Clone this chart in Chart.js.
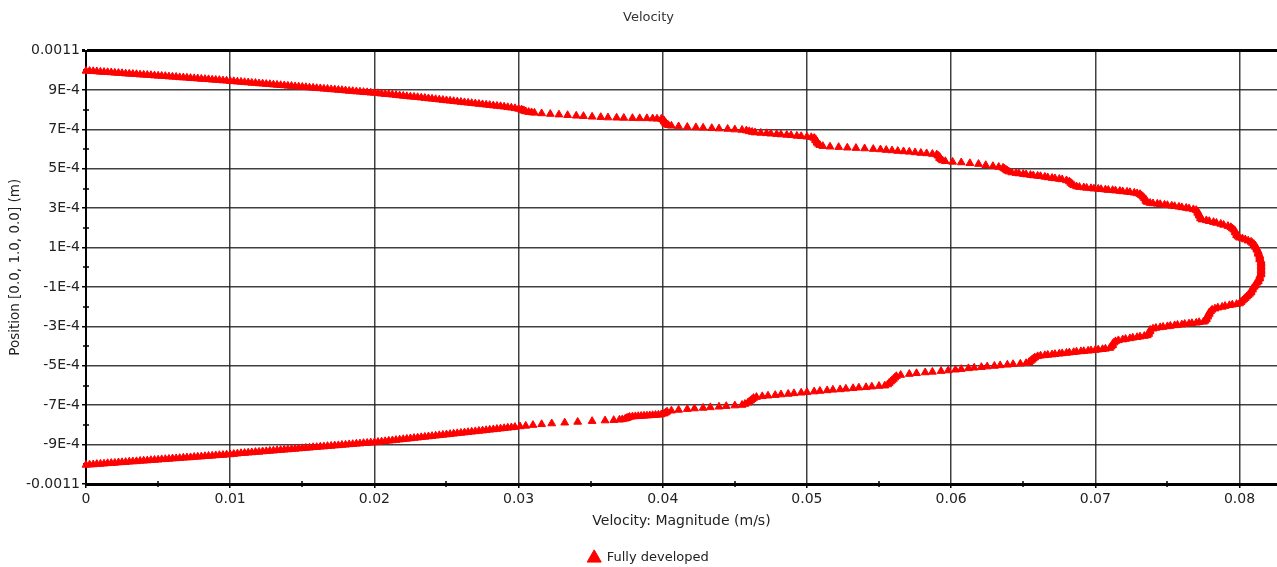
<!DOCTYPE html>
<html>
<head>
<meta charset="utf-8">
<title>Velocity</title>
<script src="https://cdn.jsdelivr.net/npm/chart.js@4/dist/chart.umd.min.js"></script>
<style>
  html, body { margin: 0; padding: 0; background: #fff; overflow: hidden; }
  #wrap { position: relative; width: 1277px; height: 567px; }
</style>
</head>
<body>
<div id="wrap"><canvas id="velocity-chart"></canvas></div>
<script>
// upper half of the channel, wall -> centre (velocity in m/s, position in mm)
const upperVelocity = [
    0.00000, 0.00025, 0.00050, 0.00075, 0.00100, 0.00125, 0.00150, 0.00175, 0.00200, 0.00225,
    0.00250, 0.00275, 0.00300, 0.00325, 0.00350, 0.00375, 0.00400, 0.00425, 0.00450, 0.00475,
    0.00500, 0.00525, 0.00550, 0.00575, 0.00600, 0.00625, 0.00650, 0.00675, 0.00700, 0.00725,
    0.00750, 0.00775, 0.00800, 0.00825, 0.00850, 0.00875, 0.00900, 0.00925, 0.00950, 0.00975,
    0.01000, 0.01025, 0.01050, 0.01075, 0.01100, 0.01125, 0.01150, 0.01175, 0.01200, 0.01225,
    0.01250, 0.01275, 0.01300, 0.01325, 0.01350, 0.01375, 0.01400, 0.01425, 0.01450, 0.01475,
    0.01500, 0.01525, 0.01550, 0.01575, 0.01600, 0.01625, 0.01650, 0.01675, 0.01700, 0.01725,
    0.01750, 0.01775, 0.01800, 0.01825, 0.01850, 0.01875, 0.01900, 0.01925, 0.01950, 0.01975,
    0.02000, 0.02025, 0.02050, 0.02075, 0.02100, 0.02125, 0.02150, 0.02175, 0.02200, 0.02225,
    0.02250, 0.02275, 0.02300, 0.02325, 0.02350, 0.02375, 0.02400, 0.02425, 0.02450, 0.02475,
    0.02500, 0.02525, 0.02550, 0.02575, 0.02600, 0.02625, 0.02650, 0.02675, 0.02700, 0.02725,
    0.02750, 0.02775, 0.02800, 0.02825, 0.02850, 0.02875, 0.02900, 0.02925, 0.02950, 0.02975,
    0.0300, 0.0302, 0.0303, 0.0304, 0.0305, 0.0307, 0.0309, 0.0311, 0.0316, 0.0322,
    0.0328, 0.0334, 0.0340, 0.0345, 0.0351, 0.0357, 0.0362, 0.0368, 0.0373, 0.0379,
    0.0384, 0.0389, 0.0393, 0.0396, 0.0399, 0.0400, 0.0401, 0.0401, 0.0402, 0.0402,
    0.0403, 0.0404, 0.0406, 0.0411, 0.0417, 0.0423, 0.0428, 0.0434, 0.0439, 0.0445,
    0.0450, 0.0455, 0.0458, 0.0460, 0.0462, 0.0464, 0.0468, 0.0472, 0.0475, 0.0479,
    0.0482, 0.0486, 0.0489, 0.0493, 0.0496, 0.0500, 0.0503, 0.0505, 0.0506, 0.0506,
    0.0507, 0.0507, 0.0508, 0.0509, 0.0511, 0.0516, 0.0522, 0.0528, 0.0534, 0.0540,
    0.0546, 0.0551, 0.0555, 0.0559, 0.0563, 0.0567, 0.0571, 0.0575, 0.0579, 0.0583,
    0.0587, 0.0590, 0.0591, 0.0592, 0.0592, 0.0593, 0.0594, 0.0596, 0.0601, 0.0607,
    0.0613, 0.0619, 0.0624, 0.0629, 0.0633, 0.0636, 0.0637, 0.0638, 0.0639, 0.0640,
    0.0642, 0.0645, 0.0647, 0.0650, 0.0652, 0.0655, 0.0657, 0.0660, 0.0662, 0.0665,
    0.0667, 0.0670, 0.0672, 0.0675, 0.0677, 0.0680, 0.0682, 0.0683, 0.0684, 0.0685,
    0.0687, 0.0689, 0.0692, 0.0694, 0.0697, 0.0699, 0.0702, 0.0704, 0.0707, 0.0709,
    0.0712, 0.0714, 0.0717, 0.0719, 0.0722, 0.0724, 0.0727, 0.0729, 0.0731, 0.0732,
    0.0733, 0.0734, 0.0735, 0.0735, 0.0736, 0.0738, 0.0740, 0.0743, 0.0745, 0.0748,
    0.0750, 0.0753, 0.0755, 0.0758, 0.0760, 0.0763, 0.0765, 0.0768, 0.0770, 0.0771,
    0.0771, 0.0772, 0.0772, 0.0773, 0.0773, 0.0774, 0.0777, 0.0779, 0.0782, 0.0784,
    0.0787, 0.0789, 0.0792, 0.0794, 0.0795, 0.0796, 0.0797, 0.0797, 0.0798, 0.0798,
    0.0799, 0.0800, 0.0802, 0.0804, 0.0806, 0.0808, 0.0809, 0.0810, 0.0811, 0.0811,
    0.0812, 0.0812, 0.0813, 0.0813, 0.0813, 0.0814, 0.0814, 0.0814, 0.0814, 0.0815,
    0.0815, 0.0815, 0.0815, 0.0815
];
const upperPositionMm = [
    0.997, 0.996, 0.995, 0.994, 0.992, 0.991, 0.990, 0.989, 0.987, 0.986,
    0.985, 0.983, 0.982, 0.981, 0.980, 0.978, 0.977, 0.976, 0.975, 0.973,
    0.972, 0.971, 0.970, 0.968, 0.967, 0.966, 0.964, 0.963, 0.962, 0.960,
    0.959, 0.958, 0.956, 0.955, 0.954, 0.952, 0.951, 0.950, 0.948, 0.947,
    0.945, 0.944, 0.942, 0.941, 0.939, 0.938, 0.936, 0.935, 0.933, 0.932,
    0.930, 0.929, 0.927, 0.926, 0.924, 0.923, 0.921, 0.920, 0.918, 0.917,
    0.915, 0.914, 0.912, 0.911, 0.909, 0.908, 0.906, 0.905, 0.903, 0.902,
    0.900, 0.899, 0.897, 0.895, 0.894, 0.892, 0.891, 0.889, 0.888, 0.886,
    0.885, 0.883, 0.881, 0.879, 0.878, 0.876, 0.874, 0.872, 0.870, 0.868,
    0.866, 0.865, 0.863, 0.861, 0.859, 0.857, 0.855, 0.853, 0.851, 0.849,
    0.847, 0.845, 0.843, 0.841, 0.839, 0.837, 0.835, 0.833, 0.831, 0.829,
    0.827, 0.825, 0.823, 0.821, 0.819, 0.817, 0.815, 0.812, 0.810, 0.807,
    0.804, 0.800, 0.797, 0.794, 0.791, 0.788, 0.786, 0.784, 0.781, 0.778,
    0.775, 0.772, 0.769, 0.767, 0.764, 0.762, 0.760, 0.759, 0.758, 0.757,
    0.756, 0.756, 0.755, 0.754, 0.753, 0.749, 0.744, 0.739, 0.734, 0.729,
    0.725, 0.721, 0.718, 0.715, 0.712, 0.710, 0.708, 0.706, 0.704, 0.702,
    0.699, 0.697, 0.694, 0.690, 0.687, 0.684, 0.682, 0.680, 0.678, 0.676,
    0.674, 0.672, 0.670, 0.667, 0.665, 0.663, 0.660, 0.656, 0.650, 0.644,
    0.638, 0.632, 0.626, 0.620, 0.615, 0.612, 0.610, 0.607, 0.605, 0.603,
    0.600, 0.598, 0.595, 0.593, 0.590, 0.588, 0.586, 0.583, 0.580, 0.578,
    0.575, 0.572, 0.566, 0.560, 0.554, 0.548, 0.542, 0.538, 0.535, 0.532,
    0.528, 0.524, 0.518, 0.513, 0.509, 0.505, 0.500, 0.495, 0.490, 0.486,
    0.481, 0.478, 0.476, 0.473, 0.471, 0.468, 0.466, 0.464, 0.462, 0.459,
    0.456, 0.453, 0.451, 0.448, 0.446, 0.441, 0.435, 0.428, 0.422, 0.416,
    0.410, 0.407, 0.405, 0.403, 0.401, 0.399, 0.398, 0.396, 0.394, 0.392,
    0.391, 0.389, 0.387, 0.385, 0.383, 0.381, 0.378, 0.375, 0.371, 0.365,
    0.358, 0.351, 0.344, 0.337, 0.331, 0.326, 0.324, 0.322, 0.320, 0.317,
    0.315, 0.312, 0.310, 0.307, 0.304, 0.301, 0.298, 0.294, 0.290, 0.283,
    0.276, 0.269, 0.262, 0.255, 0.248, 0.242, 0.238, 0.234, 0.229, 0.225,
    0.220, 0.215, 0.209, 0.203, 0.197, 0.191, 0.184, 0.177, 0.170, 0.163,
    0.156, 0.150, 0.146, 0.141, 0.135, 0.129, 0.123, 0.117, 0.110, 0.103,
    0.096, 0.089, 0.082, 0.075, 0.068, 0.061, 0.054, 0.047, 0.040, 0.033,
    0.026, 0.019, 0.012, 0.005
];

// lower half, centre -> wall
const lowerVelocity = [
    0.0815, 0.0815, 0.0815, 0.0815, 0.0815, 0.0815, 0.0814, 0.0814, 0.0814, 0.0813,
    0.0813, 0.0812, 0.0811, 0.0811, 0.0810, 0.0809, 0.0809, 0.0808, 0.0808, 0.0807,
    0.0806, 0.0805, 0.0804, 0.0803, 0.0802, 0.0801, 0.0800, 0.0798, 0.0795, 0.0793,
    0.0790, 0.0788, 0.0785, 0.0783, 0.0781, 0.0780, 0.0779, 0.0779, 0.0778, 0.0778,
    0.0777, 0.0777, 0.0776, 0.0775, 0.0772, 0.0770, 0.0767, 0.0765, 0.0762, 0.0760,
    0.0757, 0.0755, 0.0752, 0.0750, 0.0747, 0.0745, 0.0742, 0.0740, 0.0738, 0.0738,
    0.0737, 0.0737, 0.0736, 0.0734, 0.0731, 0.0729, 0.0726, 0.0724, 0.0721, 0.0719,
    0.0716, 0.0714, 0.0713, 0.0712, 0.0712, 0.0711, 0.0710, 0.0707, 0.0705, 0.0702,
    0.0700, 0.0697, 0.0695, 0.0692, 0.0690, 0.0687, 0.0685, 0.0682, 0.0680, 0.0677,
    0.0675, 0.0672, 0.0670, 0.0667, 0.0665, 0.0662, 0.0660, 0.0658, 0.0657, 0.0656,
    0.0655, 0.0654, 0.0652, 0.0648, 0.0643, 0.0639, 0.0634, 0.0630, 0.0625, 0.0621,
    0.0616, 0.0612, 0.0607, 0.0603, 0.0598, 0.0593, 0.0587, 0.0582, 0.0576, 0.0571,
    0.0565, 0.0562, 0.0561, 0.0560, 0.0559, 0.0558, 0.0557, 0.0556, 0.0554, 0.0550,
    0.0545, 0.0541, 0.0536, 0.0532, 0.0527, 0.0523, 0.0518, 0.0514, 0.0509, 0.0505,
    0.0500, 0.0496, 0.0491, 0.0487, 0.0482, 0.0478, 0.0473, 0.0469, 0.0465, 0.0463,
    0.0462, 0.0461, 0.0460, 0.0459, 0.0457, 0.0455, 0.0450, 0.0444, 0.0439, 0.0433,
    0.0428, 0.0422, 0.0417, 0.0411, 0.0406, 0.0403, 0.0402, 0.0401, 0.0399, 0.0397,
    0.0395, 0.0393, 0.0391, 0.0389, 0.0387, 0.0385, 0.0383, 0.0381, 0.0379, 0.0377,
    0.0376, 0.0375, 0.0374, 0.0372, 0.0370, 0.0366, 0.0360, 0.0351, 0.0341, 0.0332,
    0.0323, 0.0316, 0.0310, 0.0305, 0.0301, 0.02975, 0.02950, 0.02925, 0.02900, 0.02875,
    0.02850, 0.02825, 0.02800, 0.02775, 0.02750, 0.02725, 0.02700, 0.02675, 0.02650, 0.02625,
    0.02600, 0.02575, 0.02550, 0.02525, 0.02500, 0.02475, 0.02450, 0.02425, 0.02400, 0.02375,
    0.02350, 0.02325, 0.02300, 0.02275, 0.02250, 0.02225, 0.02200, 0.02175, 0.02150, 0.02125,
    0.02100, 0.02075, 0.02050, 0.02025, 0.02000, 0.01975, 0.01950, 0.01925, 0.01900, 0.01875,
    0.01850, 0.01825, 0.01800, 0.01775, 0.01750, 0.01725, 0.01700, 0.01675, 0.01650, 0.01625,
    0.01600, 0.01575, 0.01550, 0.01525, 0.01500, 0.01475, 0.01450, 0.01425, 0.01400, 0.01375,
    0.01350, 0.01325, 0.01300, 0.01275, 0.01250, 0.01225, 0.01200, 0.01175, 0.01150, 0.01125,
    0.01100, 0.01075, 0.01050, 0.01025, 0.01000, 0.00975, 0.00950, 0.00925, 0.00900, 0.00875,
    0.00850, 0.00825, 0.00800, 0.00775, 0.00750, 0.00725, 0.00700, 0.00675, 0.00650, 0.00625,
    0.00600, 0.00575, 0.00550, 0.00525, 0.00500, 0.00475, 0.00450, 0.00425, 0.00400, 0.00375,
    0.00350, 0.00325, 0.00300, 0.00275, 0.00250, 0.00225, 0.00200, 0.00175, 0.00150, 0.00125,
    0.00100, 0.00075, 0.00050, 0.00025, 0.00000
];
const lowerPositionMm = [
    -0.002, -0.009, -0.016, -0.023, -0.030, -0.037, -0.044, -0.051, -0.058, -0.065,
    -0.072, -0.079, -0.086, -0.093, -0.100, -0.107, -0.114, -0.121, -0.128, -0.135,
    -0.142, -0.149, -0.156, -0.163, -0.170, -0.177, -0.184, -0.187, -0.190, -0.193,
    -0.197, -0.201, -0.205, -0.210, -0.216, -0.223, -0.230, -0.237, -0.244, -0.251,
    -0.258, -0.265, -0.272, -0.277, -0.279, -0.282, -0.284, -0.286, -0.288, -0.291,
    -0.293, -0.295, -0.298, -0.300, -0.303, -0.305, -0.308, -0.312, -0.318, -0.325,
    -0.332, -0.339, -0.346, -0.349, -0.352, -0.355, -0.358, -0.361, -0.364, -0.367,
    -0.371, -0.376, -0.382, -0.389, -0.396, -0.403, -0.410, -0.414, -0.416, -0.418,
    -0.420, -0.422, -0.424, -0.426, -0.427, -0.429, -0.431, -0.433, -0.435, -0.437,
    -0.439, -0.441, -0.443, -0.445, -0.447, -0.449, -0.452, -0.458, -0.464, -0.470,
    -0.476, -0.482, -0.487, -0.490, -0.492, -0.495, -0.498, -0.501, -0.504, -0.507,
    -0.510, -0.513, -0.517, -0.520, -0.524, -0.527, -0.531, -0.534, -0.538, -0.542,
    -0.547, -0.553, -0.560, -0.567, -0.574, -0.581, -0.588, -0.595, -0.601, -0.603,
    -0.606, -0.609, -0.611, -0.614, -0.617, -0.620, -0.622, -0.625, -0.628, -0.631,
    -0.634, -0.637, -0.640, -0.643, -0.646, -0.649, -0.652, -0.655, -0.659, -0.664,
    -0.670, -0.676, -0.682, -0.688, -0.694, -0.699, -0.702, -0.705, -0.708, -0.711,
    -0.714, -0.717, -0.720, -0.724, -0.728, -0.733, -0.738, -0.743, -0.747, -0.749,
    -0.750, -0.751, -0.752, -0.753, -0.754, -0.755, -0.756, -0.757, -0.758, -0.760,
    -0.763, -0.766, -0.769, -0.772, -0.774, -0.776, -0.778, -0.781, -0.785, -0.789,
    -0.793, -0.797, -0.801, -0.805, -0.808, -0.811, -0.813, -0.815, -0.817, -0.819,
    -0.821, -0.823, -0.825, -0.827, -0.829, -0.831, -0.833, -0.835, -0.837, -0.839,
    -0.841, -0.843, -0.845, -0.847, -0.849, -0.851, -0.853, -0.855, -0.857, -0.859,
    -0.861, -0.863, -0.865, -0.867, -0.869, -0.871, -0.873, -0.875, -0.877, -0.879,
    -0.881, -0.883, -0.885, -0.887, -0.889, -0.890, -0.892, -0.893, -0.895, -0.896,
    -0.898, -0.899, -0.901, -0.902, -0.904, -0.905, -0.907, -0.908, -0.910, -0.911,
    -0.913, -0.914, -0.916, -0.917, -0.919, -0.920, -0.922, -0.923, -0.925, -0.926,
    -0.928, -0.929, -0.931, -0.932, -0.934, -0.935, -0.937, -0.938, -0.940, -0.941,
    -0.943, -0.944, -0.946, -0.948, -0.950, -0.951, -0.953, -0.954, -0.955, -0.957,
    -0.958, -0.959, -0.961, -0.962, -0.963, -0.965, -0.966, -0.967, -0.969, -0.970,
    -0.971, -0.973, -0.974, -0.975, -0.977, -0.978, -0.979, -0.981, -0.982, -0.983,
    -0.985, -0.986, -0.987, -0.989, -0.990, -0.991, -0.993, -0.994, -0.995, -0.997,
    -0.998, -0.999, -1.001, -1.002, -1.003
];

// axis ticks
const xTicks = [0, 0.01, 0.02, 0.03, 0.04, 0.05, 0.06, 0.07, 0.08];
const xTickLabels = ['0', '0.01', '0.02', '0.03', '0.04', '0.05', '0.06', '0.07', '0.08'];
const xMinorTicks = [0.005, 0.015, 0.025, 0.035, 0.045, 0.055, 0.065, 0.075];
const yTicks = [-0.0011, -0.0009, -0.0007, -0.0005, -0.0003, -0.0001,
                0.0001, 0.0003, 0.0005, 0.0007, 0.0009, 0.0011];
const yTickLabels = ['-0.0011', '-9E-4', '-7E-4', '-5E-4', '-3E-4', '-1E-4',
                     '1E-4', '3E-4', '5E-4', '7E-4', '9E-4', '0.0011'];
const yMinorTicks = [-0.001, -0.0008, -0.0006, -0.0004, -0.0002, 0,
                     0.0002, 0.0004, 0.0006, 0.0008, 0.001];

const points = [];
upperVelocity.forEach((v, i) => points.push({ x: v, y: upperPositionMm[i] / 1000 }));
lowerVelocity.forEach((v, i) => points.push({ x: v, y: lowerPositionMm[i] / 1000 }));

// small crossing ticks between the labelled ones
const minorTicks = {
    id: 'minorTicks',
    beforeDatasetsDraw(chart) {
        const { ctx, chartArea, scales } = chart;
        ctx.save();
        ctx.strokeStyle = '#000';
        ctx.lineWidth = 1.5;
        ctx.beginPath();
        xMinorTicks.forEach(v => {
            const px = Math.round(scales.x.getPixelForValue(v));
            ctx.moveTo(px, chartArea.bottom - 3);
            ctx.lineTo(px, chartArea.bottom + 3);
        });
        yMinorTicks.forEach(v => {
            const py = Math.round(scales.y.getPixelForValue(v));
            ctx.moveTo(chartArea.left - 3, py);
            ctx.lineTo(chartArea.left + 3, py);
        });
        ctx.stroke();
        ctx.restore();
    }
};

Chart.defaults.font.family = '"DejaVu Sans", Verdana, sans-serif';
Chart.defaults.color = '#222';

const velocityConfig = {
    type: 'scatter',
    data: {
        datasets: [{
            label: 'Fully developed',
            data: points,
            pointStyle: 'triangle',
            pointRadius: 4.5,
            pointHoverRadius: 4.5,
            borderWidth: 1,
            backgroundColor: '#ff0000',
            borderColor: '#ff0000',
            clip: false
        }]
    },
    plugins: [minorTicks],
    options: {
        responsive: true,
        maintainAspectRatio: false,
        animation: false,
        devicePixelRatio: 1,
        layout: {
            autoPadding: false,
            padding: { left: 20, right: 0, top: 0, bottom: -7.5 }
        },
        plugins: {
            title: {
                display: true,
                text: 'Velocity',
                color: '#333',
                font: { size: 13, weight: 'normal' },
                padding: { top: 10, bottom: 25 }
            },
            legend: {
                position: 'bottom',
                labels: {
                    usePointStyle: true,
                    boxWidth: 12,
                    boxHeight: 11.5,
                    padding: 4.5,
                    color: '#222',
                    font: { size: 13 }
                }
            },
            tooltip: { enabled: false }
        },
        scales: {
            x: {
                type: 'linear',
                min: 0,
                max: 0.0826,
                afterBuildTicks: scale => { scale.ticks = xTicks.map(v => ({ value: v })); },
                afterFit: scale => {
                    scale.height = 63;
                    scale.paddingLeft = 0;
                    scale.paddingRight = 0;
                },
                ticks: {
                    autoSkip: false,
                    maxRotation: 0,
                    padding: 3,
                    font: { size: 14 },
                    callback: (v, i) => xTickLabels[i]
                },
                grid: {
                    color: 'rgba(30,30,30,0.85)',
                    lineWidth: 1.5,
                    tickLength: 4,
                    tickColor: '#000'
                },
                border: { color: '#000', width: 3 },
                title: {
                    display: true,
                    text: 'Velocity: Magnitude (m/s)',
                    font: { size: 14 },
                    padding: { top: 0, bottom: 17.6 }
                }
            },
            y: {
                type: 'linear',
                min: -0.0011,
                max: 0.0011,
                afterBuildTicks: scale => { scale.ticks = yTicks.map(v => ({ value: v })); },
                afterFit: scale => { scale.width = 66; },
                ticks: {
                    autoSkip: false,
                    padding: 2,
                    font: { size: 14 },
                    callback: (v, i) => yTickLabels[i]
                },
                grid: {
                    color: ctx => (ctx.tick && ctx.tick.value > 0.00105) ? '#000' : 'rgba(30,30,30,0.85)',
                    lineWidth: ctx => (ctx.tick && ctx.tick.value > 0.00105) ? 3 : 1.5,
                    tickLength: 4,
                    tickColor: '#000'
                },
                border: { color: '#000', width: 2 },
                title: {
                    display: true,
                    text: 'Position [0.0, 1.0, 0.0] (m)',
                    font: { size: 13.5 },
                    padding: { top: -13, bottom: 0 }
                }
            }
        }
    }
};

const velocityChart = new Chart(
    document.getElementById('velocity-chart'),
    velocityConfig
);
</script>
</body>
</html>
